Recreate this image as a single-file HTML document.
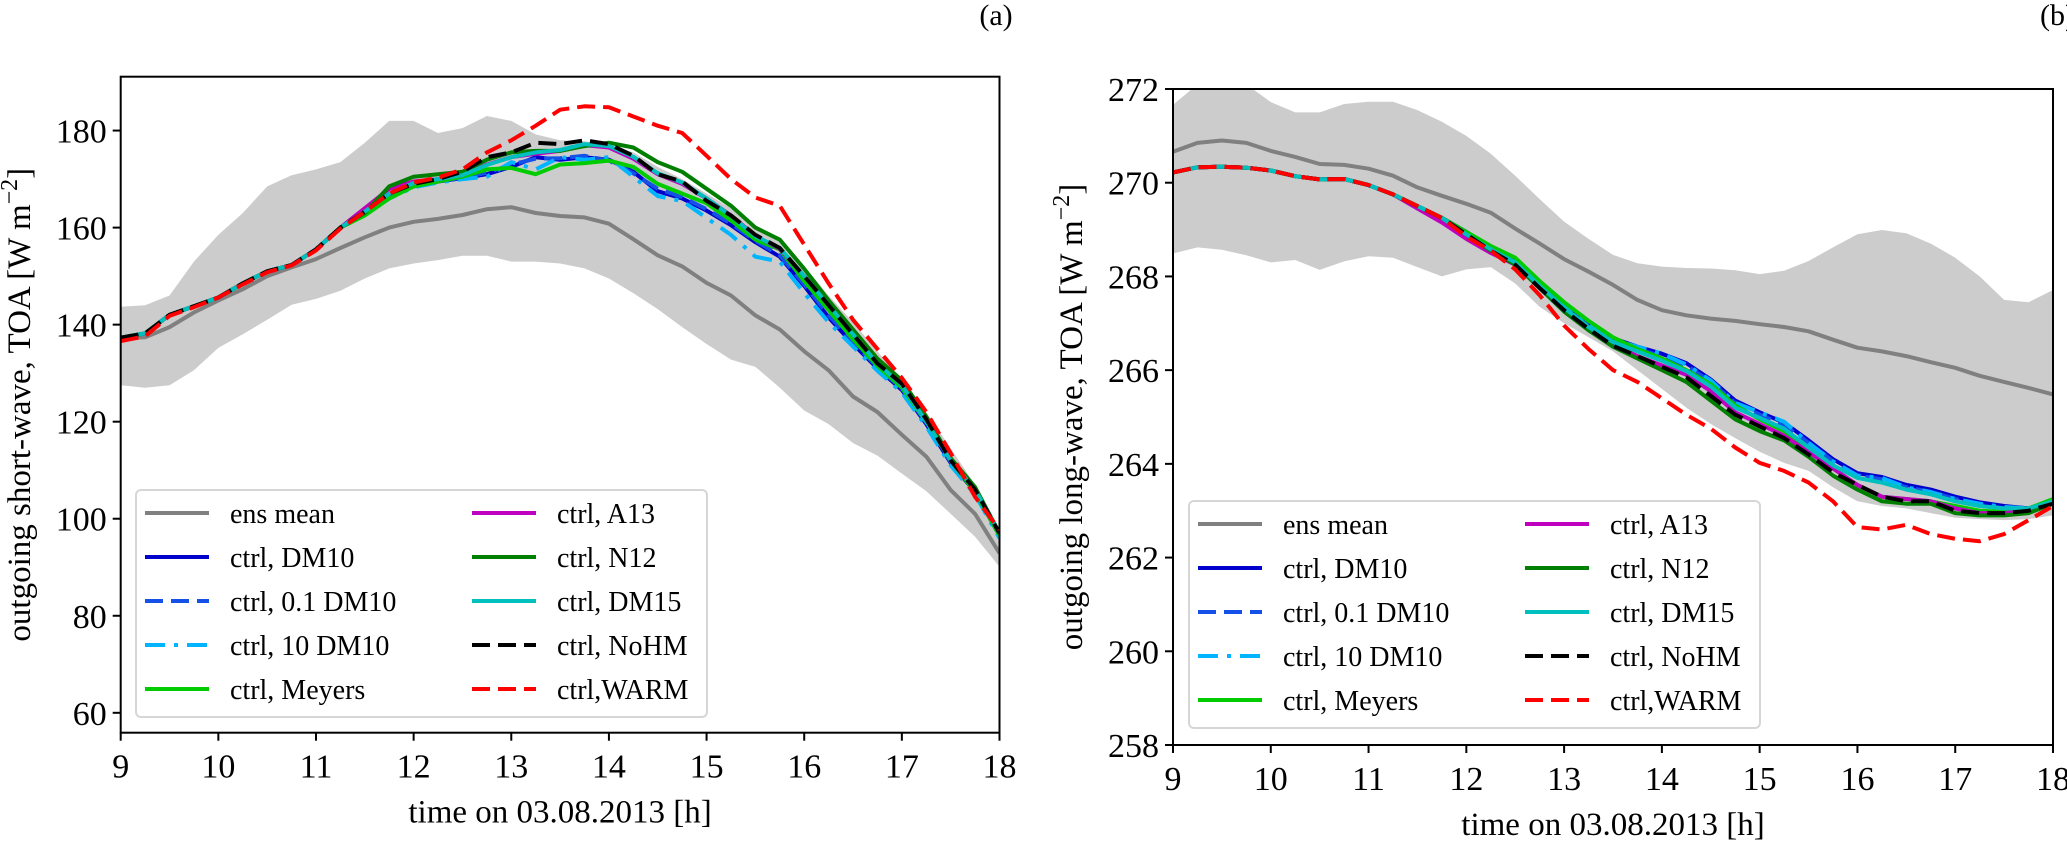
<!DOCTYPE html>
<html><head><meta charset="utf-8">
<style>
html,body{margin:0;padding:0;background:#fff;}
svg{display:block;font-family:"Liberation Serif",serif;}
</style></head>
<body>
<svg id="fig" width="2067" height="846" viewBox="0 0 2067 846" xmlns="http://www.w3.org/2000/svg"></svg>
<script>
// ---------- shared data ----------
const hours = [9,9.25,9.5,9.75,10,10.25,10.5,10.75,11,11.25,11.5,11.75,12,12.25,12.5,12.75,13,13.25,13.5,13.75,14,14.25,14.5,14.75,15,15.25,15.5,15.75,16,16.25,16.5,16.75,17,17.25,17.5,17.75,18];
const xTicks = [9,10,11,12,13,14,15,16,17,18];
const legendLabels = ["ens mean","ctrl, DM10","ctrl, 0.1 DM10","ctrl, 10 DM10","ctrl, Meyers","ctrl, A13","ctrl, N12","ctrl, DM15","ctrl, NoHM","ctrl,WARM"];

// ---------- panel (a): short-wave ----------
const yTicksA = [60,80,100,120,140,160,180];
const ensA = [137.2,137.4,139.5,142.5,145,147.3,150,151.8,153.5,155.8,158,160,161.2,161.8,162.6,163.8,164.2,163,162.4,162.1,160.8,157.6,154.3,152,148.6,146,141.9,139,134.5,130.6,125.2,122,117.3,112.8,105.9,101,92.9];
const upperA = [143.7,144,146,153,158.5,163,168.5,170.8,172,173.5,177.5,182,182,179.5,180.5,183,182,179.2,178,177.8,177,175.5,172.5,170,167,164,160,157.5,152,146,140.5,134.5,128.5,122,114.5,107,98];
const lowerA = [127.5,127,127.5,130.6,135.2,138,141,144.1,145.3,147,149.5,151.6,152.6,153.3,154.2,154.2,153,153,152.6,151.6,149.5,146.5,143.2,139.5,136,132.8,131.3,127,122.3,119.5,115.6,113,109.3,105.7,101,96.3,90.1];
const earlyA = [137.3,138.2,142,143.8,145.6,148.5,151,152.3,155.5,160];
const dm10A = earlyA.concat([163,166.5,168.5,169.5,170.2,171,172.5,174.5,174,174.5,174,171.5,167.5,166,163.5,160.5,157,154,148,141.5,136,131,126.5,119.5,111.5,105.5,96.5]);
const dm10lowA = earlyA.concat([163,166.5,168.7,169.5,170.3,171.3,173,174.2,174.3,174.8,173.8,171.2,168,166.3,163.8,160.8,157.3,154.3,148.3,142,136.3,131.3,126.8,119.8,111.7,105.7,96.6]);
const dm10highA = earlyA.concat([162.8,166,168.3,169.3,170,170.5,173.5,172,174.5,174,174.5,170.5,166.5,165.5,162,158.5,154,153,146.5,140.5,135.5,130.5,126,119,111,105,96]);
const meyersA = earlyA.concat([162.5,166,168.5,169.5,170.5,172,172.3,171,173,173.3,173.8,172.5,169,167,165,161.5,157.5,155.5,149,143,137,131.5,127,120,112,105.5,96.5]);
const a13A = earlyA.concat([164,168,169.5,170,170.8,173,174.5,175.2,175.8,177,176.5,174.2,171,169,166,162.5,158.3,155.6,150,144.2,138,132.3,127.5,120.2,112,106,97]);
const n12A = earlyA.concat([163,168.5,170.5,171,171.5,174,175.5,175.8,175.8,176.8,177.5,176.5,173.5,171.5,168,164.5,160,157.5,151.5,145,139,133,128.5,121,112.5,106.5,97]);
const dm15A = earlyA.concat([163.3,167,169.2,170,170.8,172.9,174.5,175.5,176,177.2,176.8,174.6,171.2,169.3,166,162.4,158.2,155.8,150,144,138,132,127.5,120,112,106,97]);
const nohmA = earlyA.concat([163.3,167,169,170,171.5,174.5,175.5,177.5,177.2,178,177.2,174.8,171,169.5,165.5,162.5,158.5,155.8,150,144,138,132,127.8,120.5,112,106,97]);
const warmA = [136.6,137.6,141.8,143.6,145.6,148.3,150.8,152.2,155.3,159.8,163.3,167,169.3,170.3,172,175.5,178,181,184.3,185,184.8,182.9,181,179.5,174.8,170,166.2,164.5,156.5,148.5,141,135,129,122,113.5,104.5,97.7];

// ---------- panel (b): long-wave ----------
const yTicksB = [258,260,262,264,266,268,270,272];
const ensB = [270.66,270.85,270.9,270.85,270.68,270.55,270.4,270.38,270.3,270.15,269.9,269.72,269.55,269.36,269.02,268.7,268.37,268.1,267.82,267.5,267.28,267.17,267.1,267.05,266.98,266.92,266.83,266.65,266.48,266.4,266.3,266.17,266.05,265.88,265.75,265.62,265.48];
const upperB = [271.66,272.1,272.1,272.1,271.72,271.5,271.5,271.68,271.73,271.73,271.55,271.3,271.0,270.62,270.15,269.65,269.17,268.8,268.46,268.28,268.21,268.18,268.17,268.13,268.05,268.12,268.33,268.62,268.9,268.99,268.92,268.7,268.4,268.0,267.5,267.45,267.71];
const lowerB = [268.49,268.62,268.57,268.45,268.3,268.35,268.14,268.32,268.43,268.4,268.2,268.0,268.15,268.2,267.85,267.35,267.0,266.7,266.4,266.0,265.6,265.2,264.85,264.55,264.26,264.02,263.85,263.5,263.2,263.1,263.05,262.95,262.85,262.82,262.8,262.82,262.9];
const earlyB = [270.22,270.33,270.34,270.32,270.26,270.14,270.07,270.08,269.95,269.75,269.5,269.25];
const dm10B = earlyB.concat([268.95,268.62,268.35,267.85,267.4,267.0,266.68,266.5,266.35,266.15,265.8,265.35,265.1,264.88,264.5,264.1,263.8,263.72,263.55,263.45,263.3,263.18,263.1,263.05,263.2]);
const dm10lowB = earlyB.concat([268.9,268.57,268.3,267.8,267.35,266.95,266.63,266.45,266.3,266.1,265.75,265.3,265.05,264.83,264.45,264.05,263.75,263.67,263.5,263.4,263.25,263.13,263.05,263.02,263.2]);
const dm10highB = earlyB.concat([268.92,268.6,268.33,267.82,267.38,266.97,266.65,266.5,266.35,266.12,265.78,265.3,265.1,264.9,264.45,264.05,263.75,263.7,263.5,263.4,263.25,263.15,263.08,263.05,263.2]);
const meyersB = earlyB.concat([268.95,268.65,268.4,267.9,267.45,267.05,266.7,266.45,266.25,266.0,265.7,265.25,264.95,264.7,264.3,263.9,263.55,263.3,263.25,263.2,263.1,263.0,262.98,263.05,263.25]);
const a13B = [270.22,270.33,270.34,270.32,270.26,270.14,270.07,270.08,269.95,269.75,269.45,269.15,268.8,268.5,268.25,267.75,267.3,266.9,266.55,266.3,266.1,265.9,265.55,265.1,264.85,264.6,264.25,263.9,263.55,263.3,263.25,263.2,263.05,262.95,262.95,263.0,263.2];
const n12B = earlyB.concat([268.9,268.55,268.25,267.75,267.25,266.85,266.5,266.25,266.0,265.75,265.35,264.95,264.7,264.5,264.15,263.75,263.45,263.2,263.15,263.15,262.95,262.9,262.9,262.95,263.15]);
const dm15B = earlyB.concat([268.9,268.58,268.3,267.8,267.33,266.92,266.6,266.4,266.2,265.98,265.65,265.2,264.98,264.75,264.35,263.97,263.7,263.6,263.45,263.35,263.2,263.1,263.05,263.05,263.2]);
const nohmB = earlyB.concat([268.9,268.55,268.25,267.75,267.28,266.88,266.52,266.3,266.07,265.85,265.45,265.05,264.8,264.55,264.2,263.82,263.55,263.3,263.2,263.2,263.0,262.95,262.95,263.0,263.15]);
const warmB = earlyB.concat([268.85,268.55,268.15,267.6,266.95,266.45,266.0,265.75,265.4,265.05,264.75,264.35,264.02,263.85,263.6,263.2,262.65,262.6,262.7,262.5,262.4,262.35,262.5,262.8,263.1]);

// ---------- rendering ----------
const NS = "http://www.w3.org/2000/svg";
const svg = document.getElementById("fig");
function mk(tag, parent) { const e = document.createElementNS(NS, tag); parent.appendChild(e); return e; }

const styles = [
  {stroke:"#808080", dash:""},
  {stroke:"#0000cd", dash:""},
  {stroke:"#1550e8", dash:"18 8"},
  {stroke:"#00b4ff", dash:"20 9 4 9"},
  {stroke:"#00cc00", dash:""},
  {stroke:"#bf00bf", dash:""},
  {stroke:"#007f00", dash:""},
  {stroke:"#00bfbf", dash:""},
  {stroke:"#000000", dash:"18 8"},
  {stroke:"#ff0000", dash:"18 8"}
];
const seriesNames = ["ens-mean","ctrl-dm10","ctrl-0.1-dm10","ctrl-10-dm10","ctrl-meyers","ctrl-a13","ctrl-n12","ctrl-dm15","ctrl-nohm","ctrl-warm"];

function panel(cfg) {
  const g = mk("g", svg);
  
  
  const X = h => cfg.x0 + (h - 9) / 9 * (cfg.x1 - cfg.x0);
  const Y = v => cfg.y1 - (v - cfg.vmin) / (cfg.vmax - cfg.vmin) * (cfg.y1 - cfg.y0);

  const cp = mk("clipPath", g); cp.setAttribute("id", cfg.name + "-clip");
  const cr = mk("rect", cp);
  cr.setAttribute("x", cfg.x0); cr.setAttribute("y", cfg.y0);
  cr.setAttribute("width", cfg.x1 - cfg.x0); cr.setAttribute("height", cfg.y1 - cfg.y0);
  const plot = mk("g", g);
  plot.setAttribute("clip-path", "url(#" + cfg.name + "-clip)");
  
  

  let d = "";
  hours.forEach((h, i) => { d += (i ? "L" : "M") + X(h).toFixed(1) + "," + Y(cfg.upper[i]).toFixed(1); });
  for (let i = hours.length - 1; i >= 0; i--) d += "L" + X(hours[i]).toFixed(1) + "," + Y(cfg.lower[i]).toFixed(1);
  const band = mk("path", plot);
  band.setAttribute("d", d + "Z"); band.setAttribute("fill", "#cccccc");
  
  

  cfg.series.forEach((arr, k) => {
    const p = mk("path", plot);
    let dd = "";
    arr.forEach((v, i) => { dd += (i ? "L" : "M") + X(hours[i]).toFixed(1) + "," + Y(v).toFixed(1); });
    p.setAttribute("d", dd);
    p.setAttribute("fill", "none");
    p.setAttribute("stroke", styles[k].stroke);
    p.setAttribute("stroke-width", "4");
    p.setAttribute("stroke-linejoin", "round");
    if (styles[k].dash) p.setAttribute("stroke-dasharray", styles[k].dash);
    
    
  });

  const fr = mk("rect", g);
  fr.setAttribute("x", cfg.x0); fr.setAttribute("y", cfg.y0);
  fr.setAttribute("width", cfg.x1 - cfg.x0); fr.setAttribute("height", cfg.y1 - cfg.y0);
  fr.setAttribute("fill", "none"); fr.setAttribute("stroke", "#000"); fr.setAttribute("stroke-width", "2");
  
  

  xTicks.forEach(t => {
    const l = mk("line", g);
    l.setAttribute("x1", X(t)); l.setAttribute("x2", X(t));
    l.setAttribute("y1", cfg.y1); l.setAttribute("y2", cfg.y1 + 8);
    l.setAttribute("stroke", "#000"); l.setAttribute("stroke-width", "2");
    const tx = mk("text", g);
    tx.setAttribute("x", X(t)); tx.setAttribute("y", cfg.y1 + 45);
    tx.setAttribute("text-anchor", "middle"); tx.setAttribute("font-size", "34");
    tx.textContent = t;
    
    
  });
  cfg.yTicks.forEach(t => {
    const l = mk("line", g);
    l.setAttribute("x1", cfg.x0 - 8); l.setAttribute("x2", cfg.x0);
    l.setAttribute("y1", Y(t)); l.setAttribute("y2", Y(t));
    l.setAttribute("stroke", "#000"); l.setAttribute("stroke-width", "2");
    const tx = mk("text", g);
    tx.setAttribute("x", cfg.x0 - 14); tx.setAttribute("y", Y(t) + 12);
    tx.setAttribute("text-anchor", "end"); tx.setAttribute("font-size", "34");
    tx.textContent = t;
    
    
  });
  const xt = mk("text", g);
  xt.setAttribute("x", (cfg.x0 + cfg.x1) / 2); xt.setAttribute("y", cfg.y1 + 90);
  xt.setAttribute("text-anchor", "middle"); xt.setAttribute("font-size", "33");
  xt.textContent = "time on 03.08.2013 [h]";
  
  
  const yc = (cfg.y0 + cfg.y1) / 2;
  const yt = mk("text", g);
  yt.setAttribute("transform", "translate(" + cfg.ylx + "," + yc + ") rotate(-90)");
  yt.setAttribute("text-anchor", "middle"); yt.setAttribute("font-size", "33");
  yt.innerHTML = cfg.ylabel + ' [W m<tspan dy="-13" font-size="24">−2</tspan><tspan dy="13">]</tspan>';
  
  

  const lg = mk("g", g);
  
  
  const lb = mk("rect", lg);
  lb.setAttribute("x", cfg.lx); lb.setAttribute("y", cfg.ly);
  lb.setAttribute("width", 571); lb.setAttribute("height", 227); lb.setAttribute("rx", 5);
  lb.setAttribute("fill", "#fff"); lb.setAttribute("fill-opacity", "0.85");
  lb.setAttribute("stroke", "#d6d6d6"); lb.setAttribute("stroke-width", "2");
  legendLabels.forEach((lab, k) => {
    const col = k < 5 ? 0 : 1, row = k % 5;
    const hx = cfg.lx + 9 + col * 327, ry = cfg.ly + 23 + row * 44;
    const e = mk("g", lg);
    
    
    const l = mk("line", e);
    l.setAttribute("x1", hx); l.setAttribute("x2", hx + 64);
    l.setAttribute("y1", ry); l.setAttribute("y2", ry);
    l.setAttribute("stroke", styles[k].stroke); l.setAttribute("stroke-width", "4");
    if (styles[k].dash) l.setAttribute("stroke-dasharray", styles[k].dash);
    const t = mk("text", e);
    t.setAttribute("x", hx + 85); t.setAttribute("y", ry + 10);
    t.setAttribute("font-size", "28");
    t.textContent = lab;
  });
}

panel({name:"panel-a-shortwave", x0:120.7, x1:999.5, y0:76.7, y1:732.7, vmin:55.9, vmax:191.1,
  yTicks:yTicksA, upper:upperA, lower:lowerA, ylx:30, ylabel:"outgoing short-wave, TOA",
  series:[ensA,dm10A,dm10lowA,dm10highA,meyersA,a13A,n12A,dm15A,nohmA,warmA], lx:136, ly:490});
panel({name:"panel-b-longwave", x0:1173, x1:2053, y0:89, y1:745, vmin:258, vmax:272,
  yTicks:yTicksB, upper:upperB, lower:lowerB, ylx:1082, ylabel:"outgoing long-wave, TOA",
  series:[ensB,dm10B,dm10lowB,dm10highB,meyersB,a13B,n12B,dm15B,nohmB,warmB], lx:1189, ly:501});

const la = mk("text", svg);
la.setAttribute("x", 996); la.setAttribute("y", 25); la.setAttribute("text-anchor", "middle");
la.setAttribute("font-size", "30"); la.textContent = "(a)";


const lbb = mk("text", svg);
lbb.setAttribute("x", 2040); lbb.setAttribute("y", 25);
lbb.setAttribute("font-size", "30"); lbb.textContent = "(b)";


</script>
</body></html>
